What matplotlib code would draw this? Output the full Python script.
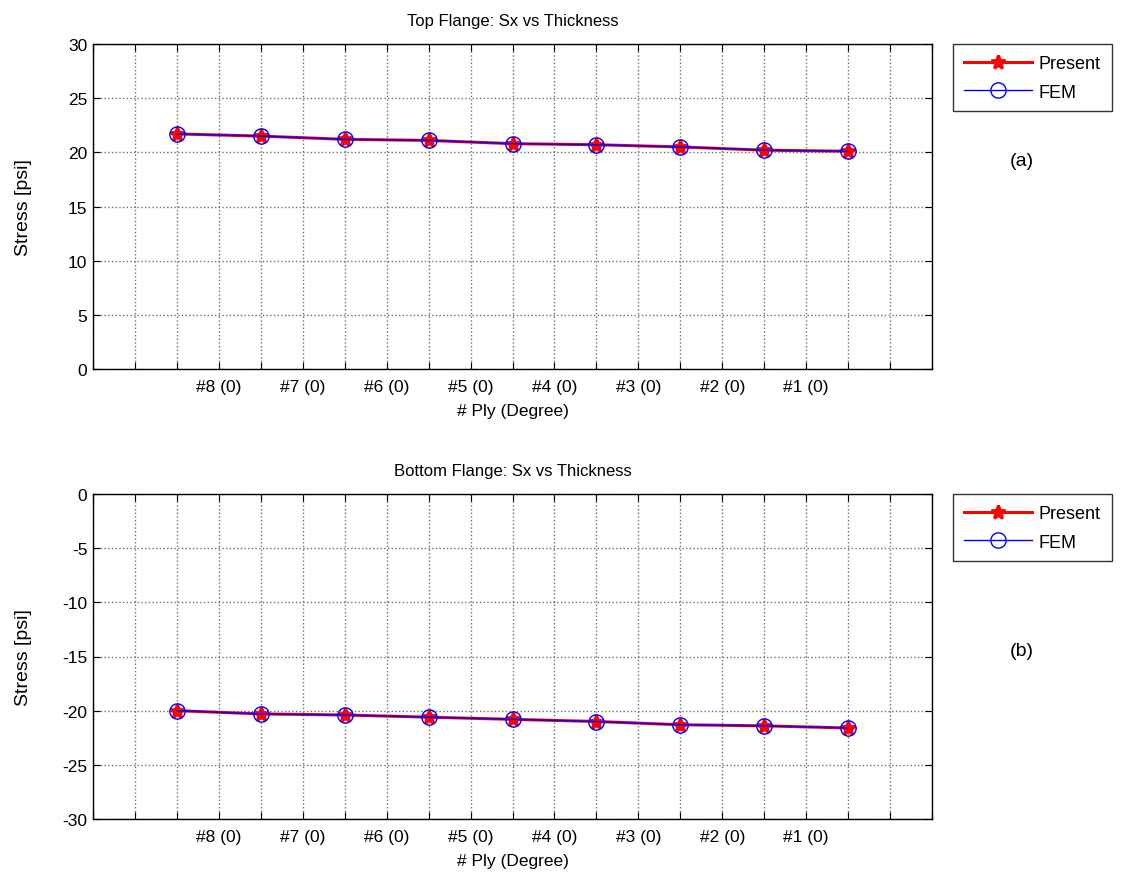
import numpy as np
import matplotlib
matplotlib.use("Agg")
import matplotlib.pyplot as plt

plt.rcParams['font.family'] = ['Liberation Sans', 'DejaVu Sans']
plt.rcParams['axes.unicode_minus'] = False

# Ply positions and stress values
ply_pos = [1, 2, 3, 4, 5, 6, 7, 8, 9]
ply_labels = ['#8 (0)', '#7 (0)', '#6 (0)', '#5 (0)', '#4 (0)', '#3 (0)', '#2 (0)', '#1 (0)']
label_pos = [1.5, 2.5, 3.5, 4.5, 5.5, 6.5, 7.5, 8.5]

top_present = [21.7, 21.5, 21.2, 21.1, 20.8, 20.7, 20.5, 20.2, 20.1]
top_fem = [21.7, 21.5, 21.2, 21.1, 20.8, 20.7, 20.5, 20.2, 20.1]
bot_present = [-20.0, -20.3, -20.4, -20.6, -20.8, -21.0, -21.3, -21.4, -21.6]
bot_fem = [-20.0, -20.3, -20.4, -20.6, -20.8, -21.0, -21.3, -21.4, -21.6]

W, H = 1123, 878
fig = plt.figure(figsize=(W / 100, H / 100), dpi=100)


def make_axes(top_px, bottom_px):
    left, right = 93, 932
    return fig.add_axes([left / W, 1 - bottom_px / H, (right - left) / W, (bottom_px - top_px) / H])


def draw_series(ax, present, fem):
    ax.plot(ply_pos, present, color='red', linewidth=2.2, marker='*', markersize=10,
            markeredgewidth=2, markerfacecolor='red', markeredgecolor='red', label='Present')
    ax.plot(ply_pos, fem, color='blue', linewidth=1.0, marker='o', markersize=11,
            markerfacecolor='none', markeredgecolor='blue', label='FEM')


def style_axes(ax, ylim, yticks, title, tag, legend_top_px):
    ax.set_xlim(0, 10)
    ax.set_ylim(*ylim)
    ax.set_xticks(np.arange(0, 10.01, 0.5))
    labels = [''] * len(ax.get_xticks())
    for p, lab in zip(label_pos, ply_labels):
        labels[int(round(p / 0.5))] = lab
    ax.set_xticklabels(labels)
    ax.set_yticks(yticks)
    ax.tick_params(direction='in', top=True, right=True, length=5, width=0.8,
                   labelsize=12.5, pad=4)
    ax.tick_params(axis='x', pad=7)
    ax.grid(True, color='#707070', linestyle=':', linewidth=1.0)
    for s in ax.spines.values():
        s.set_linewidth(1.0)
    ax.set_title(title, fontsize=12, pad=14)
    ax.set_xlabel('# Ply (Degree)', fontsize=12.5, labelpad=7)
    ax.set_ylabel('Stress [psi]', fontsize=14)
    ax.yaxis.set_label_coords(-61 / 839, 0.5)
    leg = ax.legend(loc='upper left', bbox_to_anchor=(953 / W, 1 - legend_top_px / H),
                    bbox_transform=fig.transFigure, fontsize=13, frameon=True,
                    fancybox=False, edgecolor='black', borderaxespad=0,
                    handlelength=3.8, handletextpad=0.35, borderpad=0.6, labelspacing=0.65)
    leg.get_frame().set_linewidth(1.0)
    fig.text(1022 / W, 1 - tag[1] / H, tag[0], fontsize=14, ha='center', va='center')


ax1 = make_axes(45, 370)
draw_series(ax1, top_present, top_fem)
style_axes(ax1, (0, 30), np.arange(0, 31, 5), 'Top Flange: Sx vs Thickness', ('(a)', 162), 45)

ax2 = make_axes(495, 820)
draw_series(ax2, bot_present, bot_fem)
style_axes(ax2, (-30, 0), np.arange(-30, 1, 5), 'Bottom Flange: Sx vs Thickness', ('(b)', 652), 495)

fig.savefig('out.png', dpi=100)
